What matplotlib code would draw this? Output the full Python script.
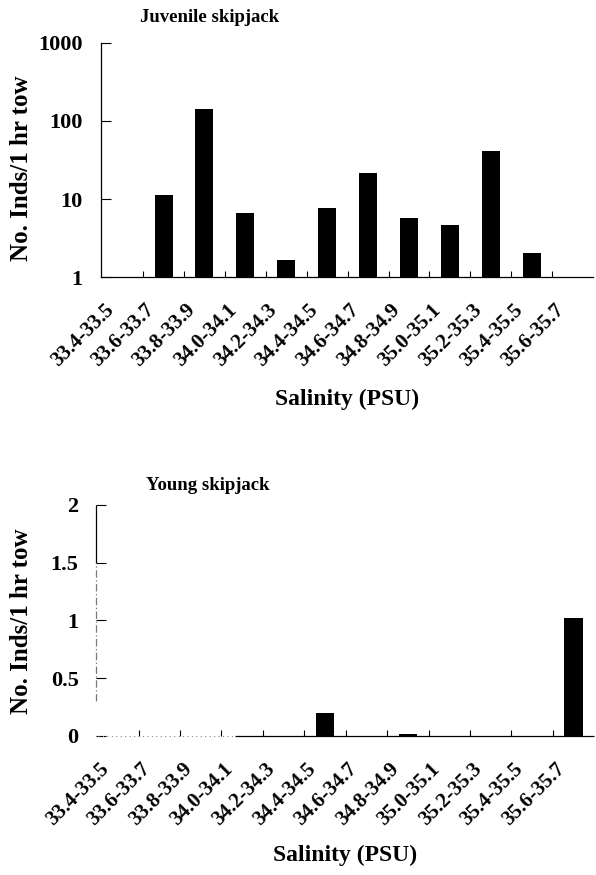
import matplotlib
matplotlib.use("Agg")
import matplotlib.pyplot as plt
from matplotlib.transforms import ScaledTranslation
import numpy as np

# Salinity classes (PSU)
salinity_bins = ["33.4-33.5", "33.6-33.7", "33.8-33.9", "34.0-34.1", "34.2-34.3",
                 "34.4-34.5", "34.6-34.7", "34.8-34.9", "35.0-35.1", "35.2-35.3",
                 "35.4-35.5", "35.6-35.7"]

# Catch per 1 hr tow
juvenile_counts = [0, 11.2, 143, 6.7, 1.66, 7.7, 21.8, 5.7, 4.6, 41, 2.05, 0]
young_counts = [0, 0, 0, 0, 0, 0.20, 0, 0.02, 0, 0, 0, 1.02]

plt.rcParams["font.family"] = ["Liberation Serif", "DejaVu Serif"]
plt.rcParams["font.weight"] = "bold"

fig = plt.figure(figsize=(5.96, 8.75), dpi=100)
ax1 = fig.add_axes([0.1695, 0.6834, 0.8255, 0.2675])
ax2 = fig.add_axes([0.161, 0.1589, 0.836, 0.264])

x = np.arange(len(salinity_bins))
bar_w = 0.44
XMIN, XMAX = -0.53, 11.5


def style_axis(ax, ypad, ylab_xy, xlab_y):
    ax.set_xlim(XMIN, XMAX)
    for side in ("top", "right"):
        ax.spines[side].set_visible(False)
    for side in ("left", "bottom"):
        ax.spines[side].set_linewidth(0.9)
    # boundary ticks between classes, pointing inward
    ax.set_xticks(np.arange(0.5, 11.5, 1.0))
    ax.tick_params(axis="x", which="major", direction="in", length=4,
                   width=0.8, labelbottom=False)
    # class labels at centres
    ax.set_xticks(x, minor=True)
    ax.set_xticklabels(salinity_bins, minor=True, rotation=45, ha="right",
                       va="top", rotation_mode="anchor", fontsize=15,
                       fontweight="bold")
    ax.tick_params(axis="x", which="minor", length=0, pad=16.5)
    shift = ScaledTranslation(-0.19, 0, fig.dpi_scale_trans)
    for lab in ax.get_xticklabels(minor=True):
        lab.set_transform(lab.get_transform() + shift)
    ax.tick_params(axis="y", which="major", direction="in", length=7,
                   width=0.8, labelsize=16, pad=ypad)
    ax.set_xlabel("Salinity (PSU)", fontsize=17, fontweight="bold")
    ax.xaxis.set_label_coords(0.5, xlab_y)
    ax.set_ylabel("No. Inds/1 hr tow", fontsize=18, fontweight="bold")
    ax.yaxis.set_label_coords(*ylab_xy)


# Juvenile skipjack (log scale)
juv = np.array(juvenile_counts, dtype=float)
mask = juv > 0
ax1.bar(x[mask], juv[mask], width=bar_w, color="black")
ax1.set_yscale("log")
ax1.set_ylim(1, 1000)
ax1.set_yticks([1, 10, 100, 1000])
ax1.set_yticklabels(["1", "10", "100", "1000"])
ax1.yaxis.set_minor_locator(matplotlib.ticker.NullLocator())
style_axis(ax1, 13.5, (-0.138, 0.466), -0.479)
ax1.text(0.079, 1.09, "Juvenile skipjack", transform=ax1.transAxes,
         fontsize=13.5, fontweight="bold", ha="left", va="baseline")

# Young skipjack (linear scale)
ax2.bar(x, young_counts, width=bar_w, color="black")
ax2.set_ylim(0, 2)
ax2.set_yticks([0, 0.5, 1, 1.5, 2])
ax2.set_yticklabels(["0", "0.5", "1", "1.5", "2"])
style_axis(ax2, 12.5, (-0.1265, 0.498), -0.472)
ax2.text(0.10, 1.065, "Young skipjack", transform=ax2.transAxes,
         fontsize=13.5, fontweight="bold", ha="left", va="baseline")

# worn axis lines of the lower panel: solid upper part, broken lower part
ax2.spines["left"].set_visible(False)
ax2.spines["bottom"].set_visible(False)
ax2.plot([XMIN, XMIN], [1.5, 2.0], color="black", lw=0.9, clip_on=False,
         solid_capstyle="butt")
ax2.plot([XMIN, XMIN], [0.3, 1.5], color="#7a7a7a", lw=0.9, clip_on=False,
         linestyle=(0, (6, 2, 1, 2)))
ax2.plot([2.83, XMAX], [0, 0], color="black", lw=0.9, clip_on=False,
         solid_capstyle="butt")
ax2.plot([XMIN + 0.05, 2.83], [0, 0], color="#8a8a8a", lw=0.8, clip_on=False,
         linestyle=(0, (1, 3)))

fig.savefig("out.png", dpi=100, facecolor="white")
